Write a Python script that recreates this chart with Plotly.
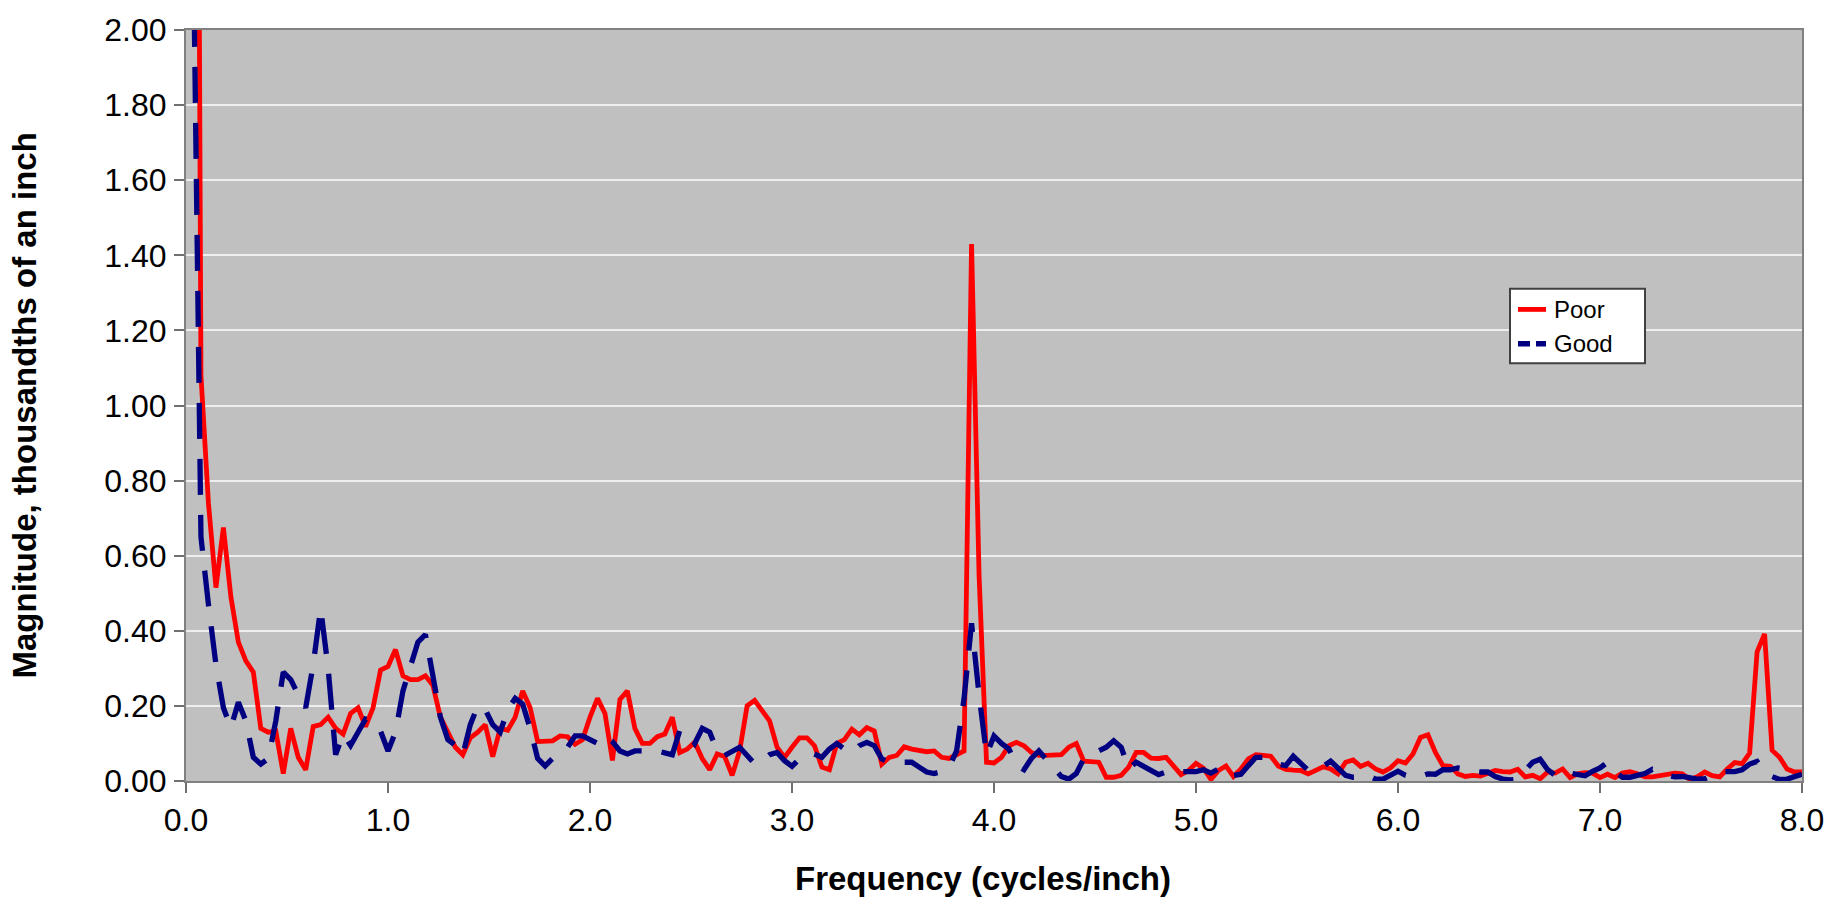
import plotly.graph_objects as go

# ---------------- data ----------------
SERIES_NAMES = ["Poor", "Good"]
BINS_PER_CYCLE = 27  # frequency bins per cycle/inch (FFT bin spacing 1/27)

poor = [
    5.5, 1.08, 0.74, 0.515, 0.675, 0.49, 0.37, 0.32, 0.29, 0.14,
    0.13, 0.133, 0.02, 0.14, 0.063, 0.03, 0.145, 0.15, 0.17, 0.14,
    0.125, 0.18, 0.195, 0.145, 0.195, 0.295, 0.305, 0.35, 0.28, 0.27,
    0.27, 0.28, 0.255, 0.17, 0.13, 0.09, 0.07, 0.115, 0.13, 0.15,
    0.065, 0.14, 0.135, 0.17, 0.24, 0.195, 0.105, 0.105, 0.107, 0.12,
    0.118, 0.098, 0.11, 0.17, 0.22, 0.18, 0.055, 0.217, 0.24, 0.14,
    0.1, 0.1, 0.118, 0.125, 0.17, 0.076, 0.085, 0.103, 0.06, 0.03,
    0.072, 0.065, 0.015, 0.08, 0.2, 0.215, 0.185, 0.16, 0.09, 0.063,
    0.09, 0.115, 0.115, 0.094, 0.037, 0.03, 0.1, 0.11, 0.138, 0.123,
    0.142, 0.133, 0.045, 0.063, 0.068, 0.091, 0.085, 0.08, 0.078, 0.08,
    0.063, 0.06, 0.07, 0.08, 1.43, 0.55, 0.05, 0.048, 0.063, 0.094,
    0.103, 0.094, 0.076, 0.068, 0.068, 0.068, 0.07, 0.09, 0.1, 0.053,
    0.05, 0.05, 0.01, 0.01, 0.015, 0.037, 0.076, 0.076, 0.061, 0.06,
    0.063, 0.04, 0.017, 0.028, 0.047, 0.034, 0.004, 0.028, 0.04, 0.012,
    0.032, 0.059, 0.07, 0.068, 0.066, 0.04, 0.031, 0.029, 0.028, 0.019,
    0.028, 0.038, 0.032, 0.019, 0.05, 0.056, 0.039, 0.047, 0.032, 0.024,
    0.035, 0.054, 0.048, 0.072, 0.116, 0.123, 0.076, 0.041, 0.039, 0.019,
    0.012, 0.015, 0.013, 0.019, 0.028, 0.025, 0.024, 0.031, 0.011, 0.015,
    0.006, 0.024, 0.021, 0.032, 0.009, 0.019, 0.022, 0.021, 0.009, 0.018,
    0.009, 0.021, 0.025, 0.019, 0.011, 0.011, 0.014, 0.019, 0.021, 0.019,
    0.004, 0.011, 0.024, 0.014, 0.011, 0.032, 0.049, 0.046, 0.074, 0.344,
    0.392, 0.082, 0.063, 0.032, 0.024, 0.024,
]

good = [
    2.2, 0.65, 0.47, 0.31, 0.195, 0.142, 0.21, 0.16, 0.063, 0.045,
    0.06, 0.16, 0.29, 0.27, 0.23, 0.195, 0.31, 0.46, 0.30, 0.07,
    0.125, 0.095, 0.13, 0.165, 0.16, 0.133, 0.08, 0.13, 0.24, 0.30,
    0.37, 0.39, 0.27, 0.17, 0.11, 0.095, 0.07, 0.15, 0.2, 0.19,
    0.15, 0.13, 0.19, 0.22, 0.205, 0.14, 0.06, 0.04, 0.06, 0.075,
    0.09, 0.12, 0.12, 0.11, 0.1, 0.12, 0.105, 0.08, 0.072, 0.08,
    0.08, 0.08, 0.08, 0.075, 0.07, 0.135, 0.13, 0.1, 0.14, 0.13,
    0.08, 0.068, 0.08, 0.09, 0.068, 0.046, 0.054, 0.07, 0.076, 0.054,
    0.039, 0.059, 0.07, 0.072, 0.063, 0.085, 0.1, 0.085, 0.075, 0.094,
    0.103, 0.094, 0.059, 0.05, 0.05, 0.05, 0.05, 0.037, 0.024, 0.02,
    0.025, 0.037, 0.08, 0.22, 0.42, 0.23, 0.07, 0.12, 0.1, 0.085,
    0.041, 0.03, 0.06, 0.08, 0.056, 0.032, 0.012, 0.005, 0.02, 0.059,
    0.065, 0.08, 0.09, 0.107, 0.09, 0.032, 0.05, 0.039, 0.026, 0.017,
    0.024, 0.03, 0.025, 0.025, 0.025, 0.03, 0.021, 0.032, 0.035, 0.015,
    0.018, 0.041, 0.063, 0.063, 0.05, 0.045, 0.041, 0.066, 0.046, 0.028,
    0.03, 0.039, 0.053, 0.032, 0.015, 0.01, 0.01, 0.015, 0.005, 0.005,
    0.015, 0.026, 0.015, 0.01, 0.012, 0.019, 0.018, 0.03, 0.03, 0.035,
    0.032, 0.026, 0.024, 0.024, 0.012, 0.005, 0.003, 0.005, 0.028, 0.05,
    0.058, 0.03, 0.015, 0.01, 0.021, 0.019, 0.014, 0.026, 0.035, 0.05,
    0.025, 0.01, 0.01, 0.015, 0.02, 0.031, 0.026, 0.015, 0.011, 0.012,
    0.008, 0.005, 0.006, 0.015, 0.024, 0.025, 0.025, 0.03, 0.045, 0.052,
    0.026, 0.012, 0.004, 0.005, 0.013, 0.018,
]

frequency = [k / BINS_PER_CYCLE for k in range(1, len(poor) + 1)]

X_TICKS = [0, 1, 2, 3, 4, 5, 6, 7, 8]
X_TICK_LABELS = ["0.0", "1.0", "2.0", "3.0", "4.0", "5.0", "6.0", "7.0", "8.0"]
Y_TICKS = [0, 0.2, 0.4, 0.6, 0.8, 1.0, 1.2, 1.4, 1.6, 1.8, 2.0]
Y_TICK_LABELS = ["0.00", "0.20", "0.40", "0.60", "0.80", "1.00",
                 "1.20", "1.40", "1.60", "1.80", "2.00"]
X_TITLE = "Frequency (cycles/inch)"
Y_TITLE = "Magnitude, thousandths of an inch"

# ---------------- styling ----------------
FONT = "Arial, Liberation Sans, Helvetica, sans-serif"
RED = "#FF0000"
NAVY = "#000080"
DASH = "36px,20px"
LEGEND_DASH = "12px,6px"

W, H = 1845, 903
L, R, T, B = 186, 43, 15, 122
PW, PH = W - L - R, H - T - B


def px_x(px):
    return (px - L) / PW


def px_y(py):
    return (H - B - py) / PH


fig = go.Figure()
fig.add_trace(go.Scatter(x=frequency, y=poor, mode="lines", name=SERIES_NAMES[0],
                         line=dict(color=RED, width=4.8), showlegend=False))
fig.add_trace(go.Scatter(x=frequency, y=good, mode="lines", name=SERIES_NAMES[1],
                         line=dict(color=NAVY, width=5.3, dash=DASH), showlegend=False))

axis_common = dict(showline=True, mirror=True, linecolor="#808080", linewidth=2,
                   ticks="outside", ticklen=10, tickwidth=2, tickcolor="#707070",
                   tickfont=dict(family=FONT, size=32, color="#000000"),
                   ticklabeloverflow="allow", zeroline=False)

fig.update_xaxes(range=[0, 8], tickvals=X_TICKS, ticktext=X_TICK_LABELS,
                 showgrid=False, ticklabelstandoff=0, **axis_common)
fig.update_yaxes(range=[0, 2], tickvals=Y_TICKS, ticktext=Y_TICK_LABELS,
                 showgrid=True, gridcolor="#EEEEEE", gridwidth=2,
                 ticklabelstandoff=1, **axis_common)

annotations = [
    dict(text=X_TITLE, x=px_x(983), y=0, xref="paper", yref="paper", xanchor="center",
         yanchor="middle", yshift=-97, showarrow=False,
         font=dict(family=FONT, size=33, color="#000000", weight="bold")),
    dict(text=Y_TITLE, x=px_x(24), y=0.5, xref="paper", yref="paper", xanchor="center",
         yanchor="middle", textangle=-90, showarrow=False,
         font=dict(family=FONT, size=33, color="#000000", weight="bold")),
]

# legend (drawn as a framed box with sample lines)
LEG_X0, LEG_X1, LEG_Y0, LEG_Y1 = 1510, 1645, 279, 355
ROW_Y = [300, 335]
SAMPLE_X0, SAMPLE_X1, TEXT_X = 1518, 1546, 1552
shapes = [
    dict(type="rect", xref="paper", yref="paper",
         x0=px_x(LEG_X0), x1=px_x(LEG_X1), y0=px_y(LEG_Y1), y1=px_y(LEG_Y0),
         line=dict(color="#404040", width=2), fillcolor="#FFFFFF", layer="above"),
    dict(type="line", xref="paper", yref="paper",
         x0=px_x(SAMPLE_X0), x1=px_x(SAMPLE_X1), y0=px_y(ROW_Y[0]), y1=px_y(ROW_Y[0]),
         line=dict(color=RED, width=4.8), layer="above"),
    dict(type="line", xref="paper", yref="paper",
         x0=px_x(SAMPLE_X0), x1=px_x(SAMPLE_X1), y0=px_y(ROW_Y[1]), y1=px_y(ROW_Y[1]),
         line=dict(color=NAVY, width=5.3, dash=LEGEND_DASH), layer="above"),
]
for name, ry in zip(SERIES_NAMES, ROW_Y):
    annotations.append(dict(text=name, x=px_x(TEXT_X), y=px_y(ry), xref="paper", yref="paper",
                            xanchor="left", yanchor="middle", showarrow=False,
                            font=dict(family=FONT, size=24, color="#000000")))

fig.update_layout(
    width=W, height=H, autosize=False,
    margin=dict(l=L, r=R, t=T, b=B, pad=0),
    paper_bgcolor="#FFFFFF", plot_bgcolor="#C0C0C0",
    showlegend=False,
    annotations=annotations, shapes=shapes,
    font=dict(family=FONT),
)

fig.write_html("out.html", config={"displayModeBar": False},
               post_script="document.body.style.margin='0';document.body.style.overflow='hidden';")
